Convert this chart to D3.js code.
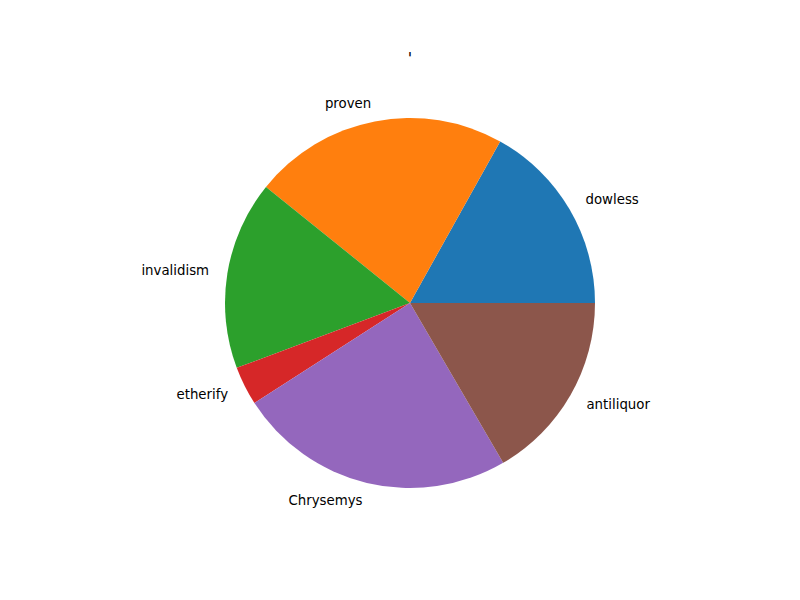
<!DOCTYPE html>
<html><head><meta charset="utf-8">
<script src="https://cdn.jsdelivr.net/npm/d3@7"></script>
<style>body{margin:0;background:#fff}</style>
</head><body>
<svg id="c" width="800" height="600"></svg>
<script>
const labels = ["dowless","proven","invalidism","etherify","Chrysemys","antiliquor"];
const values = [16.9, 22.3, 16.5, 3.4, 24.3, 16.6];
const colors = ["#1f77b4","#ff7f0e","#2ca02c","#d62728","#9467bd","#8c564b"];
const title = "'";

const svg = d3.select("#c");
const cx = 410, cy = 303, r = 185;
const g = svg.append("g").attr("transform", `translate(${cx},${cy})`);
// matplotlib: start at east, counterclockwise. d3: 0 at north, clockwise.
const pie = d3.pie().sort(null).value(d => d)
  .startAngle(Math.PI/2).endAngle(Math.PI/2 - 2*Math.PI);
const arcs = pie(values);
const arc = d3.arc().innerRadius(0).outerRadius(r);
g.selectAll("path").data(arcs).enter().append("path")
  .attr("d", arc).attr("fill", (d,i) => colors[i]);
g.selectAll("text.lbl").data(arcs).enter().append("text")
  .attr("class","lbl")
  .each(function(d,i){
    const a = (d.startAngle + d.endAngle)/2;
    const x = 1.1*r*Math.sin(a), y = -1.1*r*Math.cos(a);
    d3.select(this).attr("x", x).attr("y", y)
      .attr("text-anchor", x > 0 ? "start" : "end")
      .attr("dominant-baseline","central")
      .attr("font-family","DejaVu Sans").attr("font-size","13.33px")
      .text(labels[i]);
  });
svg.append("text").attr("x", cx).attr("y", 64).attr("text-anchor","middle")
  .attr("font-family","DejaVu Sans").attr("font-size","16px").text(title);
</script>
</body></html>
